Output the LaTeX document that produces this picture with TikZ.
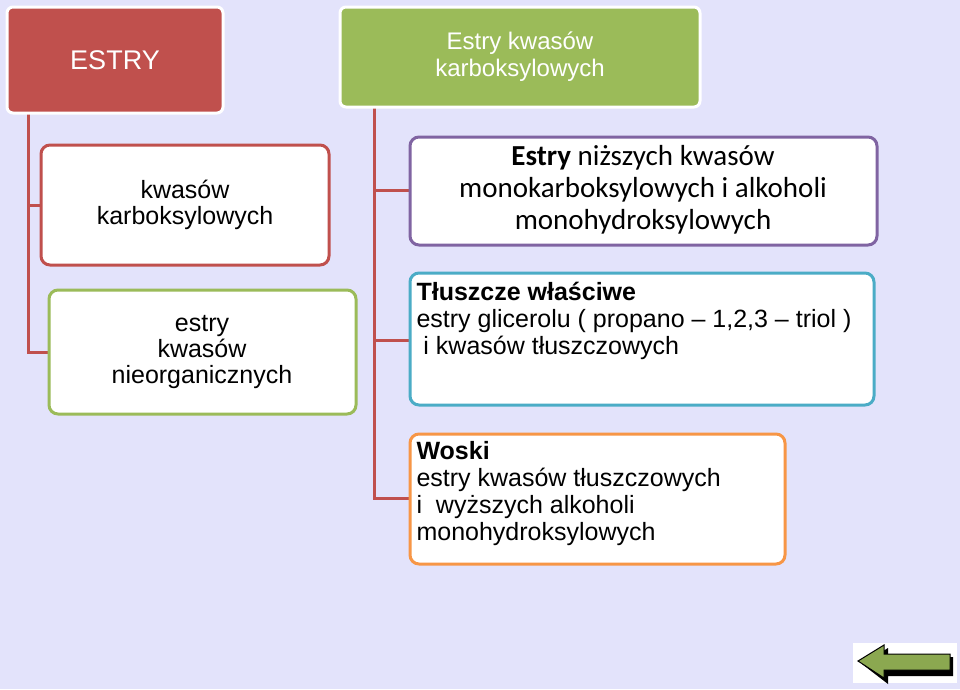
\documentclass[tikz,border=0pt]{standalone}
\usepackage{fontspec}
\setmainfont{Liberation Sans}
\newfontfamily\calib{Carlito}
\definecolor{bg}{HTML}{E3E3FB}
\definecolor{cred}{HTML}{C0504D}
\definecolor{cgreen}{HTML}{9BBB59}
\definecolor{cpurp}{HTML}{8064A2}
\definecolor{cblue}{HTML}{4BACC6}
\definecolor{corng}{HTML}{F79646}
\begin{document}
\begin{tikzpicture}[x=1pt,y=-1pt,
 box/.style={draw,line width=3pt,rounded corners=9pt,fill=white},
 head/.style={draw=white,line width=3pt,rounded corners=6pt},
 link/.style={draw=cred,line width=3pt},
 t/.style={font=\fontsize{25}{26}\selectfont,align=center},
 tl/.style={font=\fontsize{25}{27}\selectfont,align=left,anchor=north west}]
\fill[bg] (0,0) rectangle (960,689);
\useasboundingbox (0,0) rectangle (960,689);
% connectors
\draw[link] (28,113) -- (28,352) -- (49,352);
\draw[link] (28,205) -- (41,205);
\draw[link] (374,107) -- (374,498) -- (410,498);
\draw[link] (374,190) -- (410,190);
\draw[link] (374,340) -- (410,340);
% heads
\path[head,fill=cred] (7,7) rectangle (223,113);
\node[t,white,font=\fontsize{27}{30}\selectfont] (estry) at (115,60) {ESTRY};
\path[head,fill=cgreen] (340,7) rectangle (700,107);
\node[t,white,font=\fontsize{24}{27}\selectfont] (karb) at (520,57) {Estry kwasów\\karboksylowych};
% left boxes
\path[box,draw=cred] (41,145) rectangle (329,265);
\node[t] (kk) at (185,205) {kwasów\\karboksylowych};
\path[box,draw=cgreen] (49,290) rectangle (356,414);
\node[t] (nie) at (202,352) {estry\\kwasów\\nieorganicznych};
% right boxes
\path[box,draw=cpurp] (410,137) rectangle (877,245);
\node[t,font=\calib\fontsize{29}{32}\selectfont] (niz) at (643,190) {\textbf{Estry} niższych kwasów\\monokarboksylowych i alkoholi\\monohydroksylowych};
\path[box,draw=cblue] (410,273) rectangle (874,405);
\node[tl] (tlu) at (413,279) {\textbf{Tłuszcze właściwe}\\estry glicerolu ( propano -- 1,2,3 -- triol )\\\ i kwasów tłuszczowych};
\path[box,draw=corng] (410,434) rectangle (785,564);
\node[tl] (wo) at (413,438) {\textbf{Woski}\\estry kwasów tłuszczowych\\i\ \ wyższych alkoholi\\monohydroksylowych};
% back button
\fill[white] (853,643) rectangle (957,683);
\fill[black] (862,664) -- (888,648) -- (888,657) -- (953,657) -- (953,676) -- (888,676) -- (888,684) -- cycle;
\fill[cgreen!90!black,draw=black,line width=1pt] (858,661) -- (884,645) -- (884,654) -- (950,654) -- (950,670) -- (884,670) -- (884,678) -- cycle;
\end{tikzpicture}
\end{document}
